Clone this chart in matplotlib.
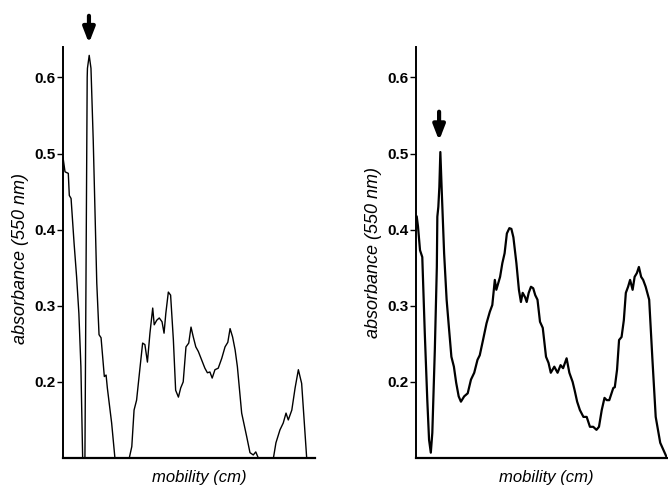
import matplotlib
matplotlib.use("Agg")
import matplotlib.pyplot as plt
import numpy as np

plt.rcParams['font.family'] = ['Liberation Sans', 'DejaVu Sans']

# Left panel trace (mobility in cm, absorbance)
left_mobility = [0.0, 0.08, 0.21, 0.25, 0.32, 0.44, 0.54, 0.63, 0.71, 0.78, 0.87,
                 0.96, 0.97, 1.04, 1.11, 1.20, 1.34, 1.43, 1.51, 1.64, 1.71, 1.76,
                 1.93, 2.06, 2.63, 2.73, 2.82, 2.92, 3.06, 3.16, 3.25, 3.35, 3.45,
                 3.56, 3.62, 3.72, 3.82, 3.93, 4.01, 4.08, 4.18, 4.27, 4.38, 4.47,
                 4.58, 4.67, 4.77, 4.88, 4.99, 5.08, 5.17, 5.27, 5.37, 5.50, 5.63,
                 5.73, 5.83, 5.92, 6.03, 6.16, 6.30, 6.43, 6.54, 6.63, 6.73, 6.83,
                 6.92, 7.09, 7.29, 7.42, 7.55, 7.65, 7.75, 8.35, 8.45, 8.61, 8.74,
                 8.85, 8.94, 9.08, 9.21, 9.34, 9.47, 9.56, 9.67, 10.0]
left_absorbance = [0.495, 0.476, 0.474, 0.445, 0.441, 0.382, 0.338, 0.290, 0.220, 0.100, 0.100,
                   0.600, 0.612, 0.629, 0.612, 0.517, 0.330, 0.262, 0.258, 0.207, 0.209, 0.192,
                   0.146, 0.100, 0.100, 0.115, 0.163, 0.176, 0.220, 0.251, 0.249, 0.226, 0.264,
                   0.297, 0.275, 0.281, 0.284, 0.279, 0.264, 0.290, 0.318, 0.314, 0.255, 0.189,
                   0.180, 0.192, 0.200, 0.246, 0.251, 0.272, 0.259, 0.246, 0.240, 0.229, 0.218,
                   0.212, 0.213, 0.205, 0.216, 0.218, 0.231, 0.246, 0.252, 0.270, 0.259, 0.242,
                   0.220, 0.159, 0.128, 0.107, 0.104, 0.108, 0.100, 0.100, 0.120, 0.137, 0.146,
                   0.159, 0.150, 0.163, 0.192, 0.216, 0.198, 0.154, 0.100, 0.100]

# Right panel trace
right_mobility = [0.03, 0.08, 0.16, 0.25, 0.35, 0.45, 0.52, 0.59, 0.65, 0.75, 0.83,
                  0.85, 0.89, 0.93, 0.97, 1.02, 1.12, 1.22, 1.31, 1.41, 1.51, 1.60,
                  1.70, 1.79, 1.92, 2.06, 2.19, 2.32, 2.45, 2.54, 2.67, 2.81, 2.94,
                  3.04, 3.14, 3.20, 3.35, 3.44, 3.53, 3.62, 3.72, 3.80, 3.88, 4.00,
                  4.10, 4.18, 4.25, 4.35, 4.41, 4.49, 4.58, 4.67, 4.75, 4.84, 4.94,
                  5.05, 5.18, 5.28, 5.37, 5.51, 5.64, 5.76, 5.86, 6.00, 6.11, 6.24,
                  6.32, 6.42, 6.53, 6.67, 6.80, 6.93, 7.06, 7.19, 7.29, 7.40, 7.51,
                  7.60, 7.70, 7.86, 7.92, 8.01, 8.09, 8.19, 8.28, 8.36, 8.45, 8.53,
                  8.63, 8.71, 8.80, 8.88, 8.97, 9.05, 9.15, 9.29, 9.42, 9.55, 9.73,
                  10.0]
right_absorbance = [0.417, 0.404, 0.373, 0.364, 0.264, 0.176, 0.124, 0.107, 0.133, 0.242, 0.351,
                    0.417, 0.430, 0.456, 0.502, 0.456, 0.369, 0.308, 0.272, 0.233, 0.220, 0.199,
                    0.181, 0.174, 0.181, 0.185, 0.203, 0.212, 0.229, 0.235, 0.255, 0.277, 0.292,
                    0.301, 0.334, 0.321, 0.338, 0.356, 0.369, 0.395, 0.402, 0.401, 0.390, 0.356,
                    0.321, 0.305, 0.317, 0.311, 0.305, 0.317, 0.325, 0.323, 0.314, 0.308, 0.279,
                    0.271, 0.233, 0.225, 0.212, 0.220, 0.212, 0.222, 0.218, 0.231, 0.212, 0.200,
                    0.189, 0.174, 0.163, 0.154, 0.154, 0.141, 0.141, 0.137, 0.141, 0.163, 0.179,
                    0.176, 0.176, 0.192, 0.193, 0.216, 0.255, 0.259, 0.281, 0.317, 0.325, 0.334,
                    0.321, 0.338, 0.343, 0.351, 0.338, 0.334, 0.325, 0.308, 0.229, 0.154, 0.120,
                    0.100]

yticks = [0.2, 0.3, 0.4, 0.5, 0.6]
ytick_labels = ['0.2', '0.3', '0.4', '0.5', '0.6']
arrow_left_x = 1.03
arrow_right_x = 0.92

fig = plt.figure(figsize=(6.68, 4.87), dpi=100)
ax1 = fig.add_axes([63/668, 1-458/487, 252/668, 411/487])
ax2 = fig.add_axes([416/668, 1-458/487, 251/668, 411/487])

ax1.plot(left_mobility, left_absorbance, color='black', lw=1.0)
ax2.plot(right_mobility, right_absorbance, color='black', lw=1.6)

for ax in (ax1, ax2):
    ax.set_xlim(0, 10)
    ax.set_ylim(0.1, 0.64)
    ax.spines['top'].set_visible(False)
    ax.spines['right'].set_visible(False)
    ax.spines['left'].set_linewidth(1.4)
    ax.spines['bottom'].set_linewidth(1.6)
    ax.set_xticks([])
    ax.set_yticks(yticks)
    ax.set_yticklabels(ytick_labels, fontsize=11, fontweight='bold')
    ax.tick_params(axis='y', direction='out', length=4, width=1.0, pad=1.5)
    ax.set_xlabel('mobility (cm)', fontsize=12, style='italic')
    ax.set_ylabel('absorbance (550 nm)', fontsize=13, style='italic')

ax1.xaxis.set_label_coords(0.54, -0.028)
ax2.xaxis.set_label_coords(0.52, -0.028)
ax1.yaxis.set_label_coords(-0.135, 0.485)
ax2.yaxis.set_label_coords(-0.135, 0.50)

arrow_kw = dict(arrowstyle='-|>,head_length=0.9,head_width=0.35', color='black', lw=3.0,
                shrinkA=0, shrinkB=0)
ax1.annotate('', xy=(arrow_left_x, 0.645), xytext=(arrow_left_x, 0.681),
             arrowprops=arrow_kw, annotation_clip=False)
ax2.annotate('', xy=(arrow_right_x, 0.517), xytext=(arrow_right_x, 0.555),
             arrowprops=arrow_kw, annotation_clip=False)

fig.savefig('out.png', dpi=100)
